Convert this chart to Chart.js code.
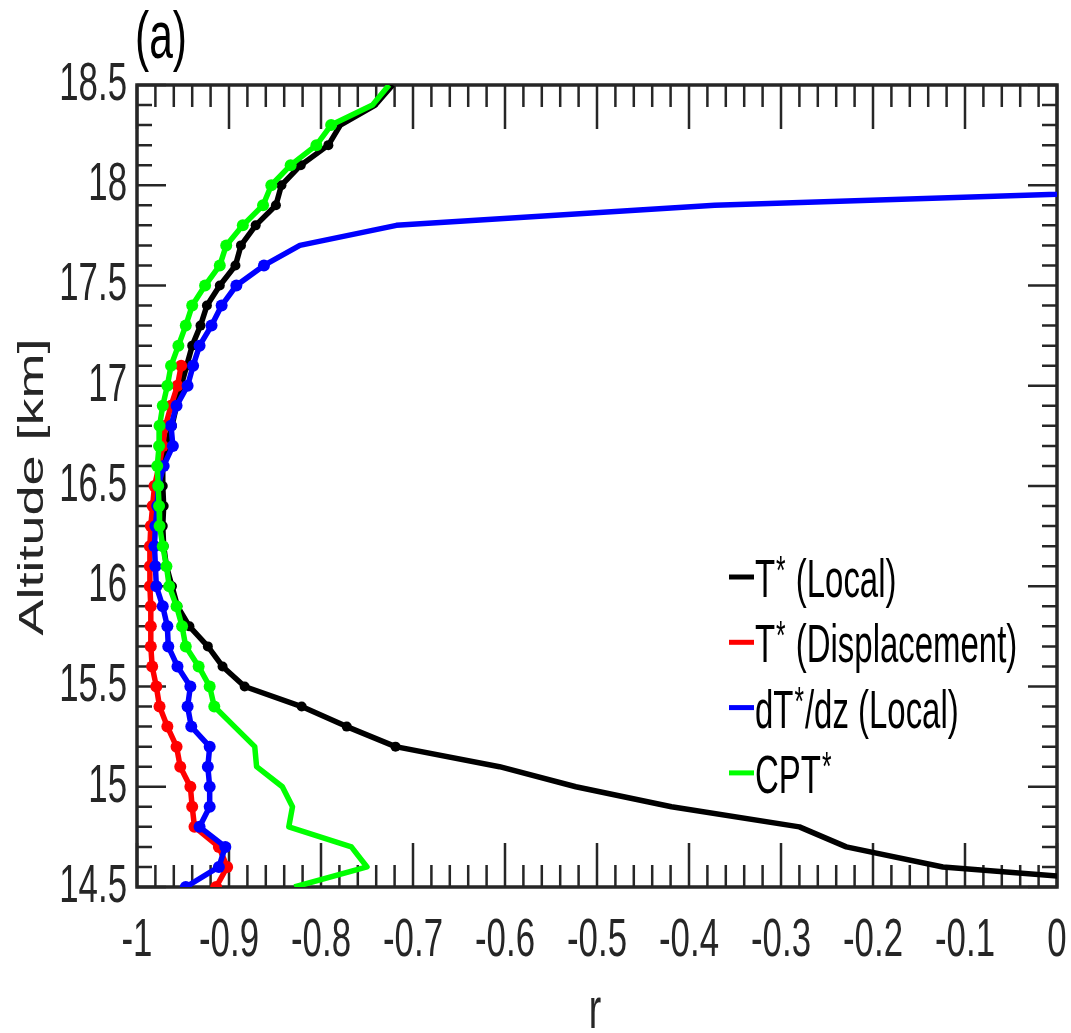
<!DOCTYPE html>
<html>
<head>
<meta charset="utf-8">
<script src="https://cdn.jsdelivr.net/npm/chart.js@4.4.1/dist/chart.umd.min.js"></script>
<style>
  html, body { margin: 0; padding: 0; background: #ffffff; }
  #wrap { width: 1071px; height: 1033px; }
</style>
</head>
<body>
<div id="wrap"><canvas id="c" width="1071" height="1033"></canvas></div>
<script>
// ---------------- data ----------------
const altitude = [18.5, 18.4, 18.3, 18.2, 18.1, 18.0, 17.9, 17.8, 17.7, 17.6,
                  17.5, 17.4, 17.3, 17.2, 17.1, 17.0, 16.9, 16.8, 16.7, 16.6,
                  16.5, 16.4, 16.3, 16.2, 16.1, 16.0, 15.9, 15.8, 15.7, 15.6,
                  15.5, 15.4, 15.3, 15.2, 15.1, 15.0, 14.9, 14.8, 14.7, 14.6, 14.5];

const tLocal = [-0.722, -0.741, -0.779, -0.792, -0.822, -0.843, -0.849, -0.871, -0.887, -0.893,
                -0.910, -0.924, -0.931, -0.940, -0.946, -0.952, -0.957, -0.962, -0.968, -0.972,
                -0.972, -0.971, -0.972, -0.971, -0.968, -0.962, -0.956, -0.943, -0.923, -0.907,
                -0.883, -0.821, -0.772, -0.719, -0.606, -0.523, -0.419, -0.280, -0.229, -0.124, 0.15];

const tDisplacement = [null, null, null, null, null, null, null, null, null, null,
                null, null, null, null, -0.952, -0.956, -0.963, -0.969, -0.972, -0.976,
                -0.981, -0.983, -0.985, -0.986, -0.986, -0.986, -0.985, -0.985, -0.985, -0.9835,
                -0.979, -0.9755, -0.967, -0.957, -0.953, -0.942, -0.940, -0.9375, -0.911, -0.902, -0.914];

const dTdzLocal = [null, null, null, null, null, 0.30, -0.372, -0.718, -0.823, -0.862,
                -0.892, -0.908, -0.919, -0.932, -0.939, -0.945, -0.957, -0.963, -0.961, -0.971,
                -0.977, -0.978, -0.980, -0.981, -0.980, -0.979, -0.972, -0.967, -0.966, -0.956,
                -0.942, -0.945, -0.941, -0.921, -0.923, -0.921, -0.921, -0.932, -0.904, -0.911, -0.947];

const cpt = [-0.726, -0.744, -0.789, -0.805, -0.833, -0.854, -0.863, -0.885, -0.903, -0.910,
             -0.926, -0.940, -0.947, -0.955, -0.963, -0.967, -0.972, -0.9755, -0.976, -0.978,
             -0.977, -0.976, -0.9755, -0.972, -0.968, -0.965, -0.957, -0.951, -0.947, -0.933,
             -0.921, -0.916, -0.894, -0.872, -0.870, -0.842, -0.831, -0.835, -0.767, -0.750, -0.829];

// altitude ranges where the series carry dot markers
const markedRanges = { tLocal: [15.2, 18.2], tDisplacement: [14.5, 17.1], dTdzLocal: [14.5, 17.6], cpt: [15.4, 18.3] };

const xTickLabels = ['-1', '-0.9', '-0.8', '-0.7', '-0.6', '-0.5', '-0.4', '-0.3', '-0.2', '-0.1', '0'];
const yTickLabels = ['14.5', '15', '15.5', '16', '16.5', '17', '17.5', '18', '18.5'];

const legendLabels = [
  [['T', 0], ['*', 1], [' (Local)', 0]],
  [['T', 0], ['*', 1], [' (Displacement)', 0]],
  [['dT', 0], ['*', 1], ['/dz (Local)', 0]],
  [['CPT', 0], ['*', 1]]
];
const xTitle = 'r';
const yTitle = 'Altitude [km]';
const panelLabel = '(a)';

// ---------------- styling ----------------
const FONT = '"Liberation Sans", Arial, sans-serif';
const SQ = 0.645;          // horizontal squeeze of tick text (reference is anisotropically scaled)
const SQL = 0.61;          // squeeze for legend text
const AXIS = '#262626';
const colors = { tLocal: '#000000', tDisplacement: '#ff0000', dTdzLocal: '#0000ff', cpt: '#00ff00' };

// Linear scale that draws its tick labels horizontally squeezed
class SqueezedLinearScale extends Chart.LinearScale {
  drawLabels(chartArea) {
    if (!this.options.ticks.display) return;
    const ctx = this.ctx;
    const items = this.getLabelItems(chartArea);
    for (const item of items) {
      const o = item.options;
      ctx.save();
      ctx.translate(o.translation[0], o.translation[1]);
      if (o.rotation) ctx.rotate(o.rotation);
      ctx.scale(SQ, 1);
      ctx.font = item.font.string;
      ctx.fillStyle = o.color;
      ctx.textAlign = o.textAlign;
      ctx.textBaseline = o.textBaseline;
      const lines = Array.isArray(item.label) ? item.label : [item.label];
      lines.forEach((l, i) => ctx.fillText(l, 0, item.textOffset + i * item.font.lineHeight));
      ctx.restore();
    }
  }
}
SqueezedLinearScale.id = 'squeezedLinear';
SqueezedLinearScale.defaults = Chart.LinearScale.defaults;
Chart.register(SqueezedLinearScale);

function series(vals) {
  return altitude.map((a, i) => ({ x: vals[i], y: a })).filter(p => p.x !== null);
}
function makeDataset(key, vals, label, order, radius, width) {
  const [lo, hi] = markedRanges[key];
  return {
    label, data: series(vals), order,
    borderColor: colors[key], backgroundColor: colors[key],
    borderWidth: width, clip: 0,
    pointRadius: c => (c.raw && c.raw.y >= lo - 1e-6 && c.raw.y <= hi + 1e-6) ? radius : 0,
    pointBorderWidth: 0, pointHoverRadius: 0, tension: 0, spanGaps: false,
    borderJoinStyle: 'round', borderCapStyle: 'butt'
  };
}

function sqText(ctx, str, x, y, size, align, sq) {
  ctx.save();
  ctx.translate(x, y);
  ctx.scale(sq, 1);
  ctx.font = size + 'px ' + FONT;
  ctx.textAlign = align;
  ctx.textBaseline = 'alphabetic';
  ctx.fillText(str, 0, 0);
  ctx.restore();
}

const framePlugin = {
  id: 'frame',
  beforeDatasetsDraw(chart) {
    const { ctx, chartArea: a, scales: { x, y } } = chart;
    ctx.save();
    ctx.strokeStyle = AXIS;
    ctx.lineWidth = 2.5;
    ctx.beginPath();
    for (let k = 0; k <= 50; k++) {
      const px = x.getPixelForValue(-1 + k * 0.02);
      const len = k % 5 === 0 ? 44 : 22;
      ctx.moveTo(px, a.bottom); ctx.lineTo(px, a.bottom - len);
      ctx.moveTo(px, a.top); ctx.lineTo(px, a.top + len);
    }
    for (let k = 0; k <= 40; k++) {
      const py = y.getPixelForValue(14.5 + k * 0.1);
      const len = k % 5 === 0 ? 29 : 15;
      ctx.moveTo(a.left, py); ctx.lineTo(a.left + len, py);
      ctx.moveTo(a.right, py); ctx.lineTo(a.right - len, py);
    }
    ctx.stroke();
    ctx.lineWidth = 3.5;
    ctx.strokeRect(a.left, a.top, a.right - a.left, a.bottom - a.top);
    ctx.restore();
  },
  afterDraw(chart) {
    const ctx = chart.ctx;
    ctx.save();
    ctx.fillStyle = '#000000';
    // panel label
    sqText(ctx, panelLabel, 135, 58, 66, 'left', SQ);
    // x title
    ctx.fillStyle = AXIS;
    sqText(ctx, xTitle, 595, 1028, 58, 'center', SQ);
    // y title (rotated)
    ctx.save();
    ctx.translate(43, 487);
    ctx.rotate(-Math.PI / 2);
    ctx.scale(1, SQ);
    ctx.font = '54px ' + FONT;
    ctx.textAlign = 'center';
    ctx.textBaseline = 'alphabetic';
    ctx.fillText(yTitle, 0, 0);
    ctx.restore();
    // legend
    const keys = ['tLocal', 'tDisplacement', 'dTdzLocal', 'cpt'];
    const size = 54, supSize = 40;
    legendLabels.forEach((parts, i) => {
      const base = 597 + i * 65.3;
      const mid = 577 + i * 65.3;
      ctx.fillStyle = colors[keys[i]];
      ctx.fillRect(729, mid - 2.5, 25, 5);
      ctx.fillStyle = '#000000';
      let xx = 755;
      for (const [txt, sup] of parts) {
        const fs = sup ? supSize : size;
        ctx.font = fs + 'px ' + FONT;
        const w = ctx.measureText(txt).width * SQL;
        sqText(ctx, txt, xx + (sup ? 1 : 0), sup ? base - 13 : base, fs, 'left', SQL);
        xx += w + (sup ? 2 : 0);
      }
    });
    ctx.restore();
  }
};

function fixBox(s, w, h) {
  if (w !== null) s.width = w;
  if (h !== null) s.height = h;
  s.paddingLeft = 0; s.paddingRight = 0; s.paddingTop = 0; s.paddingBottom = 0;
}

new Chart(document.getElementById('c'), {
  type: 'line',
  data: {
    datasets: [
      makeDataset('tLocal', tLocal, 'T* (Local)', 4, 5, 5.5),
      makeDataset('tDisplacement', tDisplacement, 'T* (Displacement)', 3, 6, 5.5),
      makeDataset('dTdzLocal', dTdzLocal, 'dT*/dz (Local)', 2, 6, 5.5),
      makeDataset('cpt', cpt, 'CPT*', 1, 6, 5.5)
    ]
  },
  options: {
    responsive: false,
    animation: false,
    devicePixelRatio: 1,
    events: [],
    layout: { padding: { top: 85, right: 14, left: 0, bottom: 0 } },
    plugins: { legend: { display: false }, tooltip: { enabled: false } },
    scales: {
      x: {
        type: 'squeezedLinear', position: 'bottom',
        min: -1, max: 0,
        grid: { display: false, drawTicks: false },
        border: { display: false },
        ticks: {
          stepSize: 0.1, autoSkip: false, maxRotation: 0, minRotation: 0,
          padding: 22, color: AXIS,
          font: { family: FONT, size: 54 },
          callback: (v, i) => xTickLabels[i]
        },
        afterFit: s => fixBox(s, null, 146)
      },
      y: {
        type: 'squeezedLinear', position: 'left',
        min: 14.5, max: 18.5,
        grid: { display: false, drawTicks: false },
        border: { display: false },
        ticks: {
          stepSize: 0.5, autoSkip: false, padding: 10, color: AXIS,
          font: { family: FONT, size: 54 },
          callback: (v, i) => yTickLabels[i]
        },
        afterFit: s => fixBox(s, 137, null)
      }
    }
  },
  plugins: [framePlugin]
});
</script>
</body>
</html>
